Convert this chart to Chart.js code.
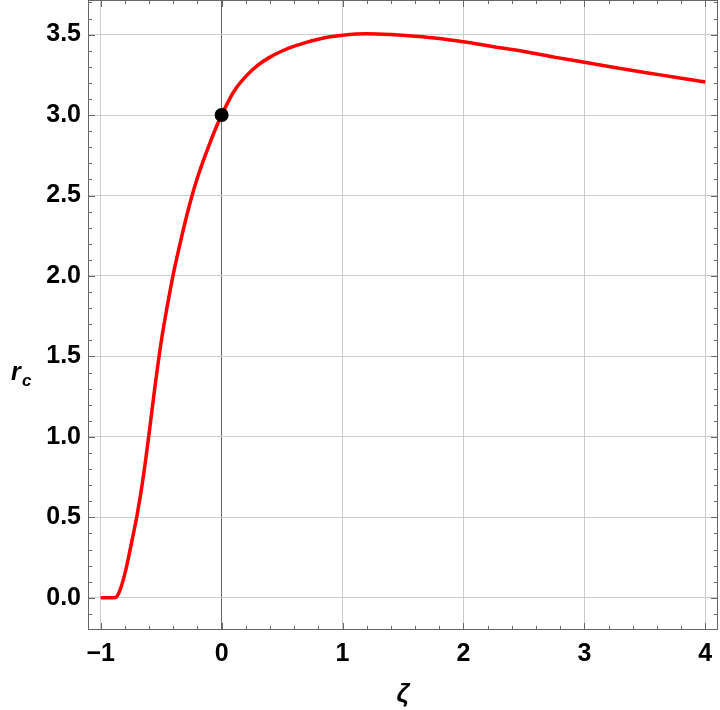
<!DOCTYPE html>
<html>
<head>
<meta charset="utf-8">
<script src="https://cdn.jsdelivr.net/npm/chart.js@4.4.1/dist/chart.umd.min.js"></script>
<style>
  html, body { margin: 0; padding: 0; background: #fff; }
  canvas { display: block; }
</style>
</head>
<body>
<canvas id="rcChart" width="720" height="710"></canvas>
<script>
// curve r_c(zeta)
var zeta = [-1.0, -0.95, -0.9, -0.87, -0.85, -0.83, -0.8, -0.77, -0.74, -0.7, -0.65, -0.6, -0.55, -0.5,
    -0.45, -0.4, -0.35, -0.3, -0.25, -0.2, -0.15, -0.1, -0.05, 0.0, 0.1, 0.2, 0.3, 0.4, 0.5, 0.6, 0.7,
    0.8, 0.9, 1.0, 1.2, 1.4, 1.6, 1.8, 2.0, 2.25, 2.5, 2.75, 3.0, 3.25, 3.5, 3.75, 4.0];
var rc = [0, 0, 0, 0.005, 0.03, 0.07, 0.15, 0.25, 0.36, 0.51, 0.74, 1.02, 1.32, 1.59,
    1.81, 2.01, 2.18, 2.34, 2.485, 2.61, 2.72, 2.82, 2.915, 3.0, 3.145, 3.24, 3.31, 3.36, 3.398, 3.428, 3.452,
    3.471, 3.486, 3.496, 3.505, 3.5, 3.49, 3.476, 3.455, 3.425, 3.395, 3.36, 3.328, 3.296, 3.265, 3.235, 3.205];

// marked point
var markZeta = [0];
var markRc = [3.0];

// tick labels
var xTicks = [-1, 0, 1, 2, 3, 4];
var yTicks = [0, 0.5, 1.0, 1.5, 2.0, 2.5, 3.0, 3.5];

var tickFont = { family: "'Liberation Sans', Arial, sans-serif", size: 25, weight: 'bold' };

var frameTicks = {
    id: 'frameTicks',
    beforeDraw: function (chart) {
        var ctx = chart.ctx;
        ctx.save();
        ctx.fillStyle = '#fff';
        ctx.fillRect(0, 0, chart.width, chart.height);
        ctx.restore();
    },
    afterDraw: function (chart) {
        var ctx = chart.ctx, a = chart.chartArea;
        var xs = chart.scales.x, ys = chart.scales.y;
        ctx.save();
        ctx.strokeStyle = '#666';
        ctx.lineWidth = 1;
        ctx.strokeRect(a.left + 0.5, a.top + 0.5, a.right - a.left - 1, a.bottom - a.top - 1);
        ctx.beginPath();
        // x ticks, bottom and top
        for (var k = 0; k <= 25; k++) {
            var v = -1 + k * 0.2;
            var px = Math.round(xs.getPixelForValue(v)) + 0.5;
            var len = (k % 5 === 0) ? 7 : 4;
            ctx.moveTo(px, a.bottom);
            ctx.lineTo(px, a.bottom - len);
            ctx.moveTo(px, a.top);
            ctx.lineTo(px, a.top + len);
        }
        // y ticks, left and right
        for (var j = -1; j <= 37; j++) {
            var w = j * 0.1;
            var py = Math.round(ys.getPixelForValue(w)) + 0.5;
            if (py < a.top || py > a.bottom) continue;
            var l2 = (j % 5 === 0) ? 7 : 4;
            ctx.moveTo(a.left, py);
            ctx.lineTo(a.left + l2, py);
            ctx.moveTo(a.right, py);
            ctx.lineTo(a.right - l2, py);
        }
        ctx.stroke();

        // y axis label r_c
        ctx.fillStyle = '#000';
        ctx.textBaseline = 'alphabetic';
        ctx.textAlign = 'left';
        ctx.font = "italic bold 25px 'Liberation Sans', Arial, sans-serif";
        ctx.fillText('r', 11, 380);
        ctx.font = "italic bold 17px 'Liberation Sans', Arial, sans-serif";
        ctx.fillText('c', 22, 386);
        ctx.restore();
    }
};

var ctx = document.getElementById('rcChart');
var rcChart = new Chart(ctx, {
    type: 'line',
    data: {
        datasets: [{
            label: 'mark',
            data: markZeta.map(function (z, i) { return { x: z, y: markRc[i] }; }),
            showLine: false,
            pointRadius: 7,
            pointBackgroundColor: '#000',
            pointBorderWidth: 0,
        }, {
            label: 'r_c',
            data: zeta.map(function (z, i) { return { x: z, y: rc[i] }; }),
            borderColor: '#ff0000',
            borderWidth: 3.5,
            pointRadius: 0,
            cubicInterpolationMode: 'monotone',
            fill: false,
        }]
    },
    options: {
        responsive: false,
        animation: false,
        devicePixelRatio: 1,
        layout: { autoPadding: false, padding: { top: 0, right: 2, left: 0, bottom: 0 } },
        plugins: {
            legend: { display: false },
            tooltip: { enabled: false },
        },
        scales: {
            x: {
                type: 'linear',
                min: -1.105,
                max: 4.105,
                afterBuildTicks: function (scale) {
                    scale.ticks = xTicks.map(function (v) { return { value: v }; });
                },
                afterFit: function (scale) {
                    scale.height = 80;
                    scale.paddingLeft = 0;
                    scale.paddingRight = 0;
                },
                border: { display: false },
                grid: {
                    drawTicks: false,
                    color: function (c) { return c.tick && c.tick.value === 0 ? '#666' : '#cccccc'; },
                },
                ticks: {
                    padding: 9,
                    color: '#000',
                    font: tickFont,
                    maxRotation: 0,
                    callback: function (v) { return v < 0 ? '\u2212' + Math.abs(v) : String(v); },
                },
                title: {
                    display: true,
                    text: '\u03b6',
                    color: '#000',
                    font: { family: "'Liberation Sans', Arial, sans-serif", size: 26, weight: 'bold', style: 'italic' },
                    padding: { top: 0, bottom: 0 },
                },
            },
            y: {
                type: 'linear',
                min: -0.2,
                max: 3.715,
                afterBuildTicks: function (scale) {
                    scale.ticks = yTicks.map(function (v) { return { value: v }; });
                },
                afterFit: function (scale) {
                    scale.width = 88;
                    scale.paddingTop = 0;
                    scale.paddingBottom = 0;
                },
                border: { display: false },
                grid: {
                    drawTicks: false,
                    color: '#cccccc',
                },
                ticks: {
                    padding: 7,
                    color: '#000',
                    font: tickFont,
                    callback: function (v) { return v.toFixed(1); },
                },
            },
        },
    },
    plugins: [frameTicks],
});
</script>
</body>
</html>
